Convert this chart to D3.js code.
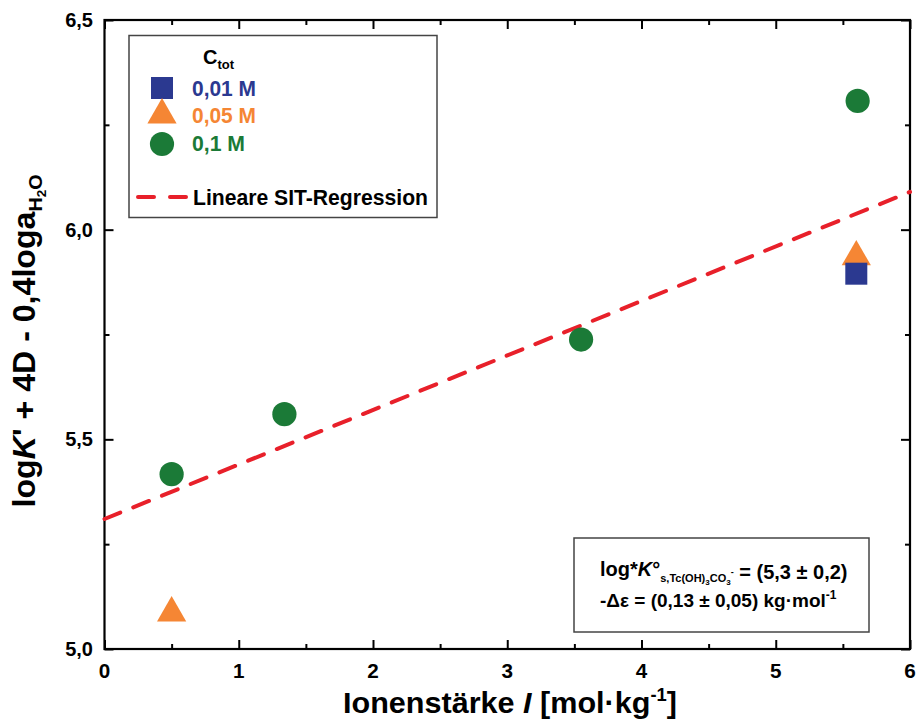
<!DOCTYPE html>
<html><head><meta charset="utf-8">
<script src="https://cdn.jsdelivr.net/npm/d3@7"></script>
<style>body{margin:0;background:#fff}svg{display:block}</style>
</head><body><svg id="c" width="917" height="722"></svg>
<script>
// ---- data ----
const seriesNames = ["0,01 M", "0,05 M", "0,1 M"];
const seriesColors = ["#2b3990", "#f58634", "#1b7a37"];
const ionic001 = [5.6];
const value001 = [5.895];
const ionic005 = [0.5, 5.6];
const value005 = [5.086, 5.935];
const ionic01 = [0.5, 1.34, 3.55, 5.61];
const value01 = [5.417, 5.56, 5.738, 6.307];
const regIntercept = 5.31;
const regSlope = 0.13;
const regRange = [0, 6];
const xTicks = [0, 1, 2, 3, 4, 5, 6];
const xTickLabels = ["0", "1", "2", "3", "4", "5", "6"];
const yTicks = [5.0, 5.5, 6.0, 6.5];
const yTickLabels = ["5,0", "5,5", "6,0", "6,5"];

const svg = d3.select("#c");
const L = 104.5, R = 910, T = 20, B = 649;
const x = d3.scaleLinear().domain([0, 6]).range([L, R]);
const y = d3.scaleLinear().domain([5, 6.5]).range([B, T]);
const bold = "'Liberation Sans', Arial, sans-serif";
const narrow = "'Liberation Sans Narrow', 'Arial Narrow', 'Liberation Sans', Arial, sans-serif";

// axes (ticks inward)
const xMinor = d3.range(0.5, 6, 1);
const yMinor = [5.25, 5.75, 6.25];
function drawAxis(axisFn, scale, ticks, size, transform) {
  const g = svg.append("g").attr("transform", transform)
    .call(axisFn(scale).tickValues(ticks).tickSizeInner(size).tickSizeOuter(0).tickFormat(""));
  g.select(".domain").remove();
  g.selectAll("line").attr("stroke", "#000").attr("stroke-width", 2);
}
drawAxis(d3.axisBottom, x, xTicks, -9, `translate(0,${B})`);
drawAxis(d3.axisBottom, x, xMinor, -5, `translate(0,${B})`);
drawAxis(d3.axisTop, x, xTicks, -9, `translate(0,${T})`);
drawAxis(d3.axisTop, x, xMinor, -5, `translate(0,${T})`);
drawAxis(d3.axisLeft, y, yTicks, -9, `translate(${L},0)`);
drawAxis(d3.axisLeft, y, yMinor, -5, `translate(${L},0)`);
drawAxis(d3.axisRight, y, yTicks, -9, `translate(${R},0)`);
drawAxis(d3.axisRight, y, yMinor, -5, `translate(${R},0)`);
svg.append("rect").attr("x", L).attr("y", T).attr("width", R - L).attr("height", B - T)
  .attr("fill", "none").attr("stroke", "#000").attr("stroke-width", 2.2);

// tick labels
svg.append("g").selectAll("text").data(xTicks).join("text")
  .attr("x", d => x(d)).attr("y", 678).attr("text-anchor", "middle")
  .attr("font-family", bold).attr("font-weight", "bold").attr("font-size", 21)
  .attr("textLength", 11.5).attr("lengthAdjust", "spacingAndGlyphs")
  .text((d, i) => xTickLabels[i]);
svg.append("g").selectAll("text").data(yTicks).join("text")
  .attr("x", 93).attr("y", d => y(d) + 7).attr("text-anchor", "end")
  .attr("font-family", bold).attr("font-weight", "bold").attr("font-size", 20)
  .text((d, i) => yTickLabels[i]);

// axis titles
const xt = svg.append("text").attr("x", 510).attr("y", 713).attr("text-anchor", "middle")
  .attr("font-family", narrow).attr("font-weight", "bold").attr("font-size", 30)
  .attr("textLength", 334).attr("lengthAdjust", "spacingAndGlyphs");
xt.append("tspan").text("Ionenstärke ");
xt.append("tspan").attr("font-style", "italic").text("I");
xt.append("tspan").text(" [mol·kg");
xt.append("tspan").attr("font-size", 18).attr("dy", -12).text("-1");
xt.append("tspan").attr("dy", 12).text("]");

const yt = svg.append("text").attr("transform", "translate(35,341) rotate(-90)")
  .attr("text-anchor", "middle")
  .attr("font-family", narrow).attr("font-weight", "bold").attr("font-size", 31)
  .attr("textLength", 333).attr("lengthAdjust", "spacingAndGlyphs");
yt.append("tspan").text("log");
yt.append("tspan").attr("font-style", "italic").text("K");
yt.append("tspan").text("' + 4D - 0,4loga");
yt.append("tspan").attr("font-size", 19).attr("dy", 7).text("H");
yt.append("tspan").attr("font-size", 13).attr("dy", 4).text("2");
yt.append("tspan").attr("font-size", 19).attr("dy", -4).text("O");

// regression line
svg.append("line")
  .attr("x1", x(regRange[0])).attr("y1", y(regIntercept + regSlope * regRange[0]))
  .attr("x2", x(regRange[1])).attr("y2", y(regIntercept + regSlope * regRange[1]))
  .attr("stroke", "#e8202a").attr("stroke-width", 4)
  .attr("stroke-dasharray", "17 14").attr("stroke-linecap", "round");

// markers
const symSquare = d3.symbol().type(d3.symbolSquare).size(484);
const symTri = d3.symbol().type(d3.symbolTriangle).size(370);
const symCirc = d3.symbol().type(d3.symbolCircle).size(460);
function drawSeries(xs, ys, sym, color) {
  svg.append("g").selectAll("path").data(xs).join("path")
    .attr("transform", (d, i) => `translate(${x(d)},${y(ys[i])})`)
    .attr("d", sym()).attr("fill", color);
}
drawSeries(ionic01, value01, symCirc, seriesColors[2]);
drawSeries(ionic005, value005, symTri, seriesColors[1]);
drawSeries(ionic001, value001, symSquare, seriesColors[0]);

// legend
const lg = svg.append("g");
lg.append("rect").attr("x", 129).attr("y", 35.5).attr("width", 308).attr("height", 182)
  .attr("fill", "#fff").attr("stroke", "#444").attr("stroke-width", 1.5);
const ct = lg.append("text").attr("x", 203).attr("y", 64)
  .attr("font-family", bold).attr("font-weight", "bold").attr("font-size", 20);
ct.append("tspan").text("C");
ct.append("tspan").attr("font-size", 13).attr("dy", 5).text("tot");
const legSyms = [symSquare, symTri, symCirc];
const legY = [88, 115, 144];
const legTextY = [96, 123, 151];
const legTextW = [64, 64, 53];
seriesNames.forEach((n, i) => {
  lg.append("path").attr("transform", `translate(162,${legY[i]})`).attr("d", legSyms[i]())
    .attr("fill", seriesColors[i]);
  lg.append("text").attr("x", 192).attr("y", legTextY[i])
    .attr("font-family", bold).attr("font-weight", "bold").attr("font-size", 22)
    .attr("fill", seriesColors[i]).attr("textLength", legTextW[i]).attr("lengthAdjust", "spacingAndGlyphs")
    .text(n);
});
lg.append("line").attr("x1", 138).attr("x2", 188).attr("y1", 197).attr("y2", 197)
  .attr("stroke", "#e8202a").attr("stroke-width", 4).attr("stroke-dasharray", "16 16")
  .attr("stroke-linecap", "round");
lg.append("text").attr("x", 193).attr("y", 205)
  .attr("font-family", bold).attr("font-weight", "bold").attr("font-size", 22)
  .attr("textLength", 235).attr("lengthAdjust", "spacingAndGlyphs")
  .text("Lineare SIT-Regression");

// annotation box
const ag = svg.append("g");
ag.append("rect").attr("x", 574).attr("y", 538).attr("width", 295).attr("height", 94)
  .attr("fill", "#fff").attr("stroke", "#444").attr("stroke-width", 1.5);
const a1 = ag.append("text").attr("x", 600).attr("y", 576)
  .attr("font-family", bold).attr("font-weight", "bold").attr("font-size", 20);
a1.append("tspan").text("log*");
a1.append("tspan").attr("font-style", "italic").text("K");
a1.append("tspan").text("°");
a1.append("tspan").attr("font-size", 11).attr("dy", 6).text("s,Tc(OH)");
a1.append("tspan").attr("font-size", 8).attr("dy", 3).text("3");
a1.append("tspan").attr("font-size", 11).attr("dy", -3).text("CO");
a1.append("tspan").attr("font-size", 8).attr("dy", 3).text("3");
a1.append("tspan").attr("font-size", 9).attr("dy", -10).text("-");
a1.append("tspan").attr("dy", 4).text(" = (5,3 ± 0,2)");
const a2 = ag.append("text").attr("x", 600).attr("y", 607)
  .attr("font-family", bold).attr("font-weight", "bold").attr("font-size", 19);
a2.append("tspan").text("-Δε = (0,13 ± 0,05) kg·mol");
a2.append("tspan").attr("font-size", 12).attr("dy", -8).text("-1");
</script></body></html>
